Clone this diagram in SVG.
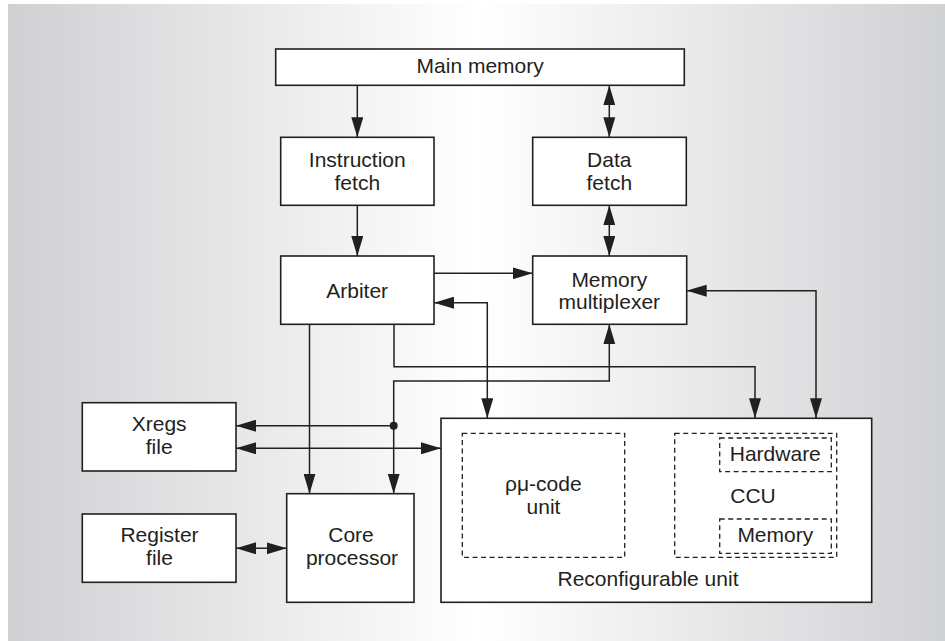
<svg xmlns="http://www.w3.org/2000/svg" width="945" height="641" viewBox="0 0 945 641">
<defs>
<linearGradient id="bg" x1="8" y1="0" x2="945" y2="0" gradientUnits="userSpaceOnUse">
<stop offset="0" stop-color="#cfd0d2"/>
<stop offset="0.5" stop-color="#ffffff"/>
<stop offset="1" stop-color="#d0d1d3"/>
</linearGradient>
<marker id="ah" markerUnits="userSpaceOnUse" markerWidth="20" markerHeight="12" refX="20" refY="6" orient="auto-start-reverse" viewBox="0 0 20 12">
<path d="M0,0 L20,6 L0,12 z" fill="#231f20"/>
</marker>
<style>
.box{fill:#ffffff;stroke:#231f20;stroke-width:1.6}
.dash{fill:none;stroke:#231f20;stroke-width:1.3;stroke-dasharray:5 3.5}
.t{font-family:"Liberation Sans",Arial,sans-serif;font-size:21px;fill:#231f20;text-anchor:middle}
.c{fill:none;stroke:#231f20;stroke-width:1.5}
.e{marker-end:url(#ah)}
.b{marker-start:url(#ah);marker-end:url(#ah)}
</style>
</defs>
<rect x="0" y="0" width="945" height="641" fill="#ffffff"/>
<rect x="8" y="4" width="937" height="637" fill="url(#bg)"/>

<g id="connectors">
<path class="c e" d="M357.3,85.3 V137.3"/>
<path class="c b" d="M609.3,85.3 V137.3"/>
<path class="c e" d="M357.3,205.3 V256"/>
<path class="c b" d="M609.3,205.3 V256"/>
<path class="c e" d="M434,273.3 H532.7"/>
<path class="c b" d="M434,302.7 H487.3 V418.3"/>
<path class="c b" d="M686.7,290.7 H816 V418.3"/>
<path class="c e" d="M394,324.3 V366.7 H755 V418.3"/>
<path class="c b" d="M393.7,493.7 V381 H609.3 V324.3"/>
<path class="c e" d="M393.7,425.7 H236"/>
<circle cx="393.7" cy="425.7" r="4" fill="#231f20"/>
<path class="c b" d="M236,448.3 H441"/>
<path class="c e" d="M309.5,324.3 V493.7"/>
<path class="c b" d="M236,548.3 H286.7"/>
<path class="c b" d="M624.7,497.3 H674.7"/>
</g>

<g id="main-memory">
<rect class="box" x="275.7" y="49" width="408.6" height="36.3"/>
<text class="t" x="480.2" y="72.5">Main memory</text>
</g>
<g id="instruction-fetch">
<rect class="box" x="280.7" y="137.3" width="153.3" height="68"/>
<text class="t" x="357.3" y="166.7">Instruction</text>
<text class="t" x="357.3" y="190">fetch</text>
</g>
<g id="data-fetch">
<rect class="box" x="532.7" y="137.3" width="153.6" height="68"/>
<text class="t" x="609.3" y="166.7">Data</text>
<text class="t" x="609.3" y="190">fetch</text>
</g>
<g id="arbiter">
<rect class="box" x="280.7" y="256" width="153.3" height="68.3"/>
<text class="t" x="357.2" y="297.5">Arbiter</text>
</g>
<g id="memory-multiplexer">
<rect class="box" x="532.7" y="256" width="154" height="68.3"/>
<text class="t" x="609.3" y="286.7">Memory</text>
<text class="t" x="609.3" y="309.3">multiplexer</text>
</g>
<g id="xregs-file">
<rect class="box" x="82.3" y="402.7" width="153.7" height="68.3"/>
<text class="t" x="159.2" y="430.7">Xregs</text>
<text class="t" x="159.2" y="454">file</text>
</g>
<g id="register-file">
<rect class="box" x="82.3" y="514" width="153.7" height="68.3"/>
<text class="t" x="159.5" y="541.7">Register</text>
<text class="t" x="159.5" y="565">file</text>
</g>
<g id="core-processor">
<rect class="box" x="286.7" y="493.7" width="127.3" height="108.6"/>
<text class="t" x="351" y="541.7">Core</text>
<text class="t" x="352" y="565">processor</text>
</g>
<g id="reconfigurable-unit">
<rect class="box" x="441" y="418.3" width="430.7" height="184"/>
<text class="t" x="648" y="585.7">Reconfigurable unit</text>
</g>
<g id="rmu-code-unit">
<rect class="dash" x="462.3" y="433.3" width="162.4" height="124"/>
<text class="t" x="543.3" y="491">ρμ-code</text>
<text class="t" x="543.5" y="514">unit</text>
</g>
<g id="ccu">
<rect class="dash" x="674.7" y="433.3" width="162" height="124"/>
<text class="t" x="753" y="502.7">CCU</text>
</g>
<g id="hardware">
<rect class="dash" x="719.7" y="438" width="111.6" height="33.7"/>
<text class="t" x="775.3" y="460.7">Hardware</text>
</g>
<g id="memory">
<rect class="dash" x="719.7" y="519" width="111.6" height="34.3"/>
<text class="t" x="775.3" y="541.7">Memory</text>
</g>
</svg>
